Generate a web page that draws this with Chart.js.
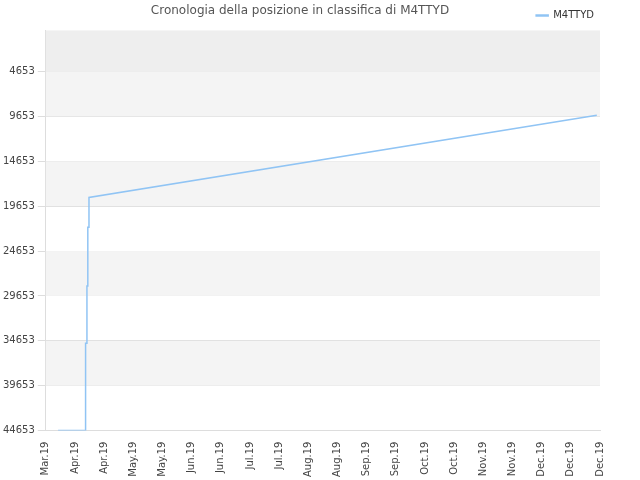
<!DOCTYPE html><html><head><script src="https://cdn.jsdelivr.net/npm/chart.js"></script>
<style>body{margin:0;background:#fff}</style></head><body><canvas id="c" width="640" height="480"></canvas>
<script>
const xLabels=["Mar.19","Apr.19","Apr.19","May.19","May.19","Jun.19","Jun.19","Jul.19","Jul.19","Aug.19","Aug.19","Sep.19","Sep.19","Oct.19","Oct.19","Nov.19","Nov.19","Dec.19","Dec.19","Dec.19"];
const xPos=[0.42,1.35,1.35,1.37,1.37,1.41,1.41,1.44,1.44,1.48,1.48,18.89];
const ranks=[44653,44653,41459,41459,34930,34930,28540,28540,22014,22014,18680,9514];
const yTicks=[4653,9653,14653,19653,24653,29653,34653,39653,44653];
const bands={id:'bands',beforeDatasetsDraw(ch){const {ctx,chartArea:a,scales:{y}}=ch;ctx.save();
ctx.fillStyle='#eeeeee';ctx.fillRect(a.left,a.top,a.right-a.left,y.getPixelForValue(4653)-a.top);
for(let i=0;i<yTicks.length-1;i++){if(i%2==0){ctx.fillStyle='#f4f4f4';const t=y.getPixelForValue(yTicks[i]),b=y.getPixelForValue(yTicks[i+1]);ctx.fillRect(a.left,t,a.right-a.left,b-t);}}
ctx.restore();}};
new Chart(document.getElementById('c'),{type:'line',
data:{datasets:[{label:'M4TTYD',data:xPos.map((x,i)=>({x,y:ranks[i]})),borderColor:'#90c4f4',backgroundColor:'#90c4f4',borderWidth:1.5,pointRadius:0,tension:0}]},
options:{responsive:false,animation:false,devicePixelRatio:1,
layout:{padding:{right:40,bottom:0,left:0}},
plugins:{title:{display:true,text:'Cronologia della posizione in classifica di M4TTYD',color:'#555',font:{family:'DejaVu Sans',size:12,weight:'normal'},padding:{top:4,bottom:-14}},
legend:{position:'top',align:'end',labels:{boxWidth:12,boxHeight:1,padding:6,color:'#333',font:{family:'DejaVu Sans',size:10}}}},
scales:{x:{type:'linear',min:0,max:19,afterBuildTicks(s){s.ticks=xLabels.map((_,i)=>({value:i}));},
ticks:{autoSkip:false,maxRotation:90,minRotation:90,color:'#444',font:{family:'DejaVu Sans',size:10},callback:(v)=>xLabels[v]},
grid:{display:false},border:{color:'#ddd'}},
y:{reverse:true,min:70,max:44653,afterBuildTicks(s){s.ticks=yTicks.map(v=>({value:v}));},
ticks:{autoSkip:false,color:'#444',font:{family:'DejaVu Sans',size:10},callback:(v)=>String(v)},grid:{color:'#dddddd'},border:{color:'#ddd'}}}},
plugins:[bands]});
</script></body></html>
